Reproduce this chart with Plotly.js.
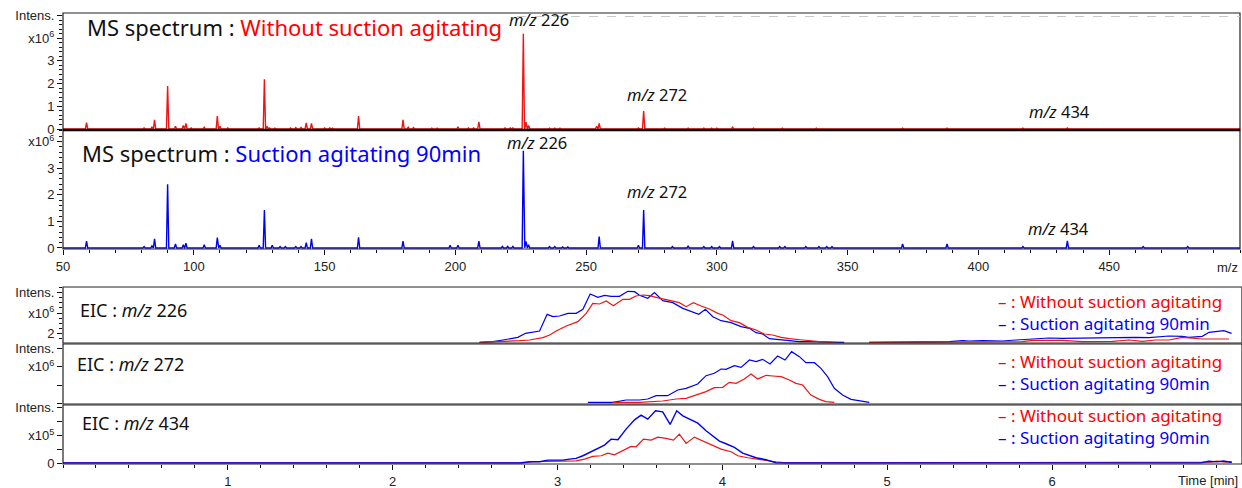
<!DOCTYPE html>
<html>
<head>
<meta charset="utf-8">
<script src="https://cdn.plot.ly/plotly-3.0.1.min.js"></script>
<style>html,body{margin:0;padding:0;background:#fff;}</style>
</head>
<body>
<div id="chart" style="width:1242px;height:488px;"></div>
<script>
// ---------- MS spectrum data (m/z, intensity x10^6) ----------
const mzRed = [59,81,84,85,90,93,96,97,99,104,109,110,113,125,127,128,129,131,137,139,141,143,145,150,152,153,163,173,180,182,184,191,193,201,205,207,209,219,221,222,226,227,228,236,238,240,254,255,270,272,280,289,295,298,300,306,314,325,338,371,388,417,434];
const intRed = [0.28,0.05,0.08,0.40,1.89,0.12,0.15,0.25,0.05,0.08,0.57,0.12,0.05,0.05,2.19,0.12,0.05,0.04,0.05,0.06,0.07,0.27,0.25,0.05,0.05,0.04,0.57,0.03,0.40,0.08,0.06,0.04,0.04,0.10,0.05,0.05,0.32,0.05,0.05,0.05,4.20,0.30,0.15,0.04,0.04,0.04,0.12,0.25,0.05,0.79,0.04,0.04,0.04,0.04,0.04,0.08,0.04,0.04,0.04,0.04,0.04,0.04,0.05];
const mzBlue = [59,81,84,85,90,93,96,97,104,109,110,125,127,130,133,135,139,141,143,145,163,180,198,201,209,218,220,222,226,227,228,236,238,241,243,255,270,272,283,289,295,298,301,306,314,324,326,334,339,342,344,371,388,417,434,463,480];
const intBlue = [0.26,0.05,0.08,0.34,2.39,0.15,0.12,0.18,0.12,0.39,0.10,0.10,1.43,0.10,0.05,0.05,0.05,0.05,0.20,0.34,0.40,0.26,0.10,0.10,0.26,0.06,0.06,0.06,3.65,0.25,0.12,0.05,0.05,0.04,0.04,0.43,0.10,1.43,0.05,0.08,0.05,0.05,0.05,0.27,0.05,0.05,0.05,0.05,0.05,0.05,0.05,0.15,0.15,0.05,0.27,0.05,0.05];
const mzRange = [50, 500];
const mzTicks = [50,100,150,200,250,300,350,400,450];
const mzTickText = ['50','100','150','200','250','300','350','400','450'];

// ---------- EIC m/z 226 (x10^6) ----------
const t226Red = [2.527,2.669,2.77,2.83,2.911,2.952,2.992,3.053,3.123,3.174,3.214,3.255,3.295,3.339,3.376,3.396,3.436,3.476,3.517,3.557,3.598,3.648,3.699,3.739,3.78,3.824,3.871,3.921,3.972,4.002,4.053,4.103,4.154,4.204,4.255,4.305,4.356,4.406,4.487,4.537,4.588,4.669,4.78,4.891,5.739,5.82,5.881,5.982,6.063,6.184,6.366,6.467,6.548,6.628,6.709,6.79,6.83,6.911,7.073];
const i226Red = [1.569,1.60,1.65,1.683,1.797,1.927,2.122,2.366,2.577,2.984,3.472,3.439,3.585,3.358,3.553,3.667,3.667,3.829,3.878,3.846,3.764,3.667,3.602,3.504,3.309,3.504,3.341,3.195,2.984,2.902,2.626,2.528,2.301,2.171,1.976,1.927,1.813,1.748,1.683,1.634,1.60,1.569,null,1.569,1.569,1.60,1.667,1.667,1.667,1.60,1.617,1.683,1.617,1.683,1.683,1.813,1.781,1.732,1.732];
const t226Blue = [2.527,2.608,2.669,2.759,2.806,2.85,2.891,2.937,2.972,3.012,3.063,3.113,3.154,3.198,3.245,3.285,3.325,3.376,3.426,3.467,3.497,3.547,3.588,3.638,3.699,3.76,3.81,3.857,3.897,3.942,3.992,4.053,4.113,4.164,4.204,4.244,4.285,4.366,4.426,4.467,4.537,4.628,4.739,4.81,4.891,4.972,5.073,5.133,5.255,5.376,5.457,5.497,5.578,5.638,5.699,5.78,5.861,5.941,5.982,6.063,6.184,6.265,6.366,6.467,6.507,6.588,6.669,6.709,6.79,6.83,6.911,6.952,6.992,7.042,7.089];
const i226Blue = [1.569,1.60,1.683,1.813,2.008,2.057,2.122,2.935,2.821,2.854,2.984,2.984,3.179,3.927,3.764,3.862,3.813,3.813,4.057,4.041,3.862,3.716,3.992,3.602,3.504,3.228,3.065,2.935,3.179,2.821,2.626,2.528,2.333,2.252,2.04,1.976,1.748,1.683,1.667,1.60,1.60,1.60,1.569,null,1.569,1.569,1.60,1.569,1.60,1.60,1.65,1.634,1.65,1.65,1.634,1.683,1.716,1.748,1.781,1.765,1.781,1.797,1.797,1.797,1.813,1.797,1.862,1.878,1.862,1.813,1.862,2.057,2.09,2.138,2.008];

// ---------- EIC m/z 272 (x10^6) ----------
const t272Red = [3.335,3.497,3.638,3.719,3.78,3.84,3.901,3.951,4.002,4.042,4.083,4.133,4.174,4.214,4.265,4.305,4.356,4.406,4.446,4.487,4.537,4.588,4.628,4.679];
const i272Red = [0.063,0.063,0.135,0.243,0.279,0.459,0.64,0.856,0.874,1.144,1.09,1.324,1.595,1.324,1.523,1.487,1.45,1.27,1.09,1.0,0.459,0.225,0.099,0.063];
const t272Blue = [3.184,3.335,3.416,3.497,3.547,3.598,3.668,3.729,3.78,3.85,3.901,3.951,3.992,4.022,4.073,4.113,4.164,4.204,4.244,4.289,4.335,4.38,4.42,4.467,4.507,4.558,4.598,4.638,4.679,4.729,4.78,4.83,4.891];
const i272Blue = [0.063,0.063,0.189,0.189,0.243,0.423,0.423,0.73,0.82,1.054,1.505,1.631,1.865,1.847,2.045,1.955,2.351,2.261,2.387,2.135,2.568,2.351,2.802,2.532,2.207,2.207,1.901,1.45,0.82,0.459,0.225,0.153,0.063];

// ---------- EIC m/z 434 (x10^5) ----------
const t434Red = [0.0,2.0,2.79,2.85,2.93,3.032,3.113,3.164,3.214,3.265,3.305,3.345,3.396,3.446,3.477,3.521,3.568,3.608,3.658,3.703,3.739,3.78,3.83,3.881,3.942,3.992,4.053,4.093,4.154,4.204,4.265,4.325,4.386,6.9,6.96,7.0,7.05,7.09];
const i434Red = [0.05,0.05,0.05,0.131,0.155,0.155,0.2,0.321,0.512,0.56,0.75,0.631,0.917,1.226,1.202,1.75,1.679,1.893,1.798,1.679,2.107,1.44,1.893,1.631,1.274,1.036,0.845,0.56,0.417,0.321,0.2,0.131,0.05,0.05,0.1,0.17,0.1,0.15];
const t434Blue = [0.0,2.0,2.77,2.83,2.891,2.941,3.032,3.073,3.113,3.154,3.204,3.245,3.285,3.325,3.366,3.416,3.467,3.507,3.547,3.594,3.638,3.683,3.723,3.76,3.8,3.851,3.901,3.942,3.982,4.022,4.073,4.123,4.164,4.204,4.265,4.325,6.9,6.95,7.0,7.04,7.09];
const i434Blue = [0.05,0.05,0.05,0.131,0.131,0.25,0.25,0.321,0.369,0.56,0.845,1.036,1.321,1.75,1.702,2.464,3.131,3.464,3.179,3.774,3.702,2.798,3.774,3.417,3.179,2.893,2.345,1.94,1.607,1.417,1.155,0.75,0.607,0.417,0.274,0.05,0.05,0.17,0.12,0.18,0.08];
const timeRange = [0, 7.14];

// ---------- helpers ----------
const RED = '#f01414', BLUE = '#0000f0';
const L = 63, R = 1240, T = 13, B = 464;
const px2x = p => (p - L) / (R - L);
const py2y = p => (B - p) / (B - T);

function spikes(mz, inten) {
  const order = mz.map((m, i) => i).sort((a, b) => mz[a] - mz[b]);
  const xs = [mzRange[0]], ys = [0];
  order.forEach(i => { xs.push(mz[i] - 0.45, mz[i], mz[i] + 0.45); ys.push(0, inten[i], 0); });
  xs.push(mzRange[1]); ys.push(0);
  return {x: xs, y: ys};
}

const sR = spikes(mzRed, intRed), sB = spikes(mzBlue, intBlue);
const traces = [
  {x: sR.x, y: sR.y, xaxis: 'x', yaxis: 'y', mode: 'lines', line: {color: RED, width: 1.4}, hoverinfo: 'skip'},
  {x: sB.x, y: sB.y, xaxis: 'x', yaxis: 'y2', mode: 'lines', line: {color: BLUE, width: 1.4}, hoverinfo: 'skip'},
  {x: t226Blue, y: i226Blue, xaxis: 'x2', yaxis: 'y3', mode: 'lines', line: {color: BLUE, width: 1.2}, connectgaps: false},
  {x: t226Red, y: i226Red, xaxis: 'x2', yaxis: 'y3', mode: 'lines', line: {color: RED, width: 1.2}, connectgaps: false},
  {x: t272Blue, y: i272Blue, xaxis: 'x2', yaxis: 'y4', mode: 'lines', line: {color: BLUE, width: 1.2}},
  {x: t272Red, y: i272Red, xaxis: 'x2', yaxis: 'y4', mode: 'lines', line: {color: RED, width: 1.2}},
  {x: t434Red, y: i434Red, xaxis: 'x2', yaxis: 'y5', mode: 'lines', line: {color: RED, width: 1.2}},
  {x: t434Blue, y: i434Blue, xaxis: 'x2', yaxis: 'y5', mode: 'lines', line: {color: BLUE, width: 1.4}}
];

const tickBase = {ticks: 'outside', ticklen: 5, tickcolor: '#111', tickwidth: 1, showgrid: false, zeroline: false, showline: false,
  tickfont: {family: 'Liberation Sans, Arial, sans-serif', size: 13, color: '#222'}};
const minorT = (d, t0) => ({dtick: d, tick0: t0, ticks: 'outside', ticklen: 3, tickcolor: '#111', showgrid: false});
const intens = "Intens.";
const x6 = "x10<sup>6</sup>", x5 = "x10<sup>5</sup>";

const d1 = [py2y(130), 1], d2 = [py2y(249), py2y(130)];
const d3 = [py2y(343), py2y(287)], d4 = [py2y(404), py2y(344)], d5 = [0, py2y(405)];

const layout = {
  width: 1242, height: 488,
  margin: {l: L, r: 1242 - R, t: T, b: 488 - B},
  paper_bgcolor: '#fff', plot_bgcolor: '#fff', showlegend: false,
  font: {family: 'Liberation Sans, Arial, sans-serif', size: 12, color: '#222'},
  xaxis: Object.assign({}, tickBase, {domain: [0, 1], anchor: 'y2', range: mzRange, tickmode: 'array',
    tickvals: mzTicks, ticktext: mzTickText, minor: minorT(10, 50)}),
  xaxis2: Object.assign({}, tickBase, {domain: [0, 1], anchor: 'y5', range: timeRange, tickmode: 'array',
    tickvals: [1,2,3,4,5,6], ticktext: ['1','2','3','4','5','6'], minor: minorT(0.2, 0)}),
  yaxis: Object.assign({}, tickBase, {domain: d1, anchor: 'x', range: [-0.044, 5.11], tickmode: 'array',
    tickvals: [0,1,2,3,4,5], ticktext: ['0','1','2','3',x6,intens], minor: minorT(0.2, 0)}),
  yaxis2: Object.assign({}, tickBase, {domain: d2, anchor: 'x', range: [-0.038, 4.43], tickmode: 'array',
    tickvals: [0,1,2,3,4], ticktext: ['0','1','2','3',x6], minor: minorT(0.2, 0)}),
  yaxis3: Object.assign({}, tickBase, {domain: d3, anchor: 'x2', range: [1.537, 4.268], tickmode: 'array',
    tickvals: [2,3,4], ticktext: ['2',x6,intens], minor: minorT(0.25, 0)}),
  yaxis4: Object.assign({}, tickBase, {domain: d4, anchor: 'x2', range: [-0.027, 3.216], tickmode: 'array',
    tickvals: [2,3], ticktext: [x6,intens], minor: Object.assign(minorT(1, 0), {ticklen: 5})}),
  yaxis5: Object.assign({}, tickBase, {domain: d5, anchor: 'x2', range: [-0.03, 4.19], tickmode: 'array',
    tickvals: [0,2,4], ticktext: ['0',x5,intens], minor: Object.assign(minorT(1, 0), {ticklen: 5})}),
  shapes: [
    {type: 'rect', xref: 'paper', yref: 'paper', x0: 0, x1: 1, y0: d1[0], y1: d1[1], line: {color: '#222', width: 1.2}},
    {type: 'rect', xref: 'paper', yref: 'paper', x0: 0, x1: 1, y0: d2[0], y1: d2[1], line: {color: '#222', width: 1.2}},
    {type: 'line', xref: 'paper', yref: 'paper', x0: 0, x1: 1, y0: d1[0], y1: d1[0], line: {color: '#000', width: 2.5}},
    {type: 'rect', xref: 'paper', yref: 'paper', x0: 0, x1: 1.0017, y0: d3[0], y1: d3[1], line: {color: '#222', width: 1.2}},
    {type: 'rect', xref: 'paper', yref: 'paper', x0: 0, x1: 1.0017, y0: d4[0], y1: d4[1], line: {color: '#222', width: 1.2}},
    {type: 'rect', xref: 'paper', yref: 'paper', x0: 0, x1: 1.0017, y0: d5[0], y1: d5[1], line: {color: '#222', width: 1.2}},
    {type: 'line', xref: 'paper', yref: 'paper', x0: px2x(517), x1: 1, y0: py2y(16.5), y1: py2y(16.5), line: {color: '#c8c8c8', width: 1, dash: 'dash'}}
  ],
  annotations: []
};

const F = 'Noto Sans, DejaVu Sans, sans-serif';
function ann(xp, yp, text, size, color, xanchor) {
  layout.annotations.push({xref: 'paper', yref: 'paper', x: px2x(xp), y: py2y(yp), text: text, showarrow: false,
    xanchor: xanchor || 'left', yanchor: 'middle', align: 'left', font: {family: F, size: size, color: color || '#111'}});
}
ann(85, 27, "MS spectrum : <span style='color:#ff0000'>Without suction agitating</span>", 22);
ann(80, 153, "MS spectrum : <span style='color:#0000ff'>Suction agitating 90min</span>", 22);
const mzLbl = n => "<i>m/z</i> " + n;
ann(539, 19, mzLbl(226), 16.5, '#111', 'center');
ann(657, 95, mzLbl(272), 16.5, '#111', 'center');
ann(1059, 111, mzLbl(434), 16.5, '#111', 'center');
ann(537, 142, mzLbl(226), 16.5, '#111', 'center');
ann(657, 192, mzLbl(272), 16.5, '#111', 'center');
ann(1058, 228, mzLbl(434), 16.5, '#111', 'center');
ann(78, 310, "EIC : <i>m/z</i> 226", 18);
ann(75, 364, "EIC : <i>m/z</i> 272", 18);
ann(80, 423, "EIC : <i>m/z</i> 434", 18);
[312, 372, 426].forEach(yc => {
  ann(996, yc, "<span style='color:#ff0000'>– : Without suction agitating</span><br><span style='color:#0000ff'>– : Suction agitating 90min</span>", 17);
});
layout.annotations.push({xref: 'paper', yref: 'paper', x: 1.0, y: py2y(267), text: 'm/z', showarrow: false,
  xanchor: 'right', yanchor: 'middle', font: {family: 'Liberation Sans, Arial, sans-serif', size: 13, color: '#222'}});
layout.annotations.push({xref: 'paper', yref: 'paper', x: 1.0, y: py2y(481), text: 'Time [min]', showarrow: false,
  xanchor: 'right', yanchor: 'middle', font: {family: 'Liberation Sans, Arial, sans-serif', size: 13, color: '#222'}});

Plotly.newPlot('chart', traces, layout, {staticPlot: true, displayModeBar: false});
</script>
</body>
</html>
